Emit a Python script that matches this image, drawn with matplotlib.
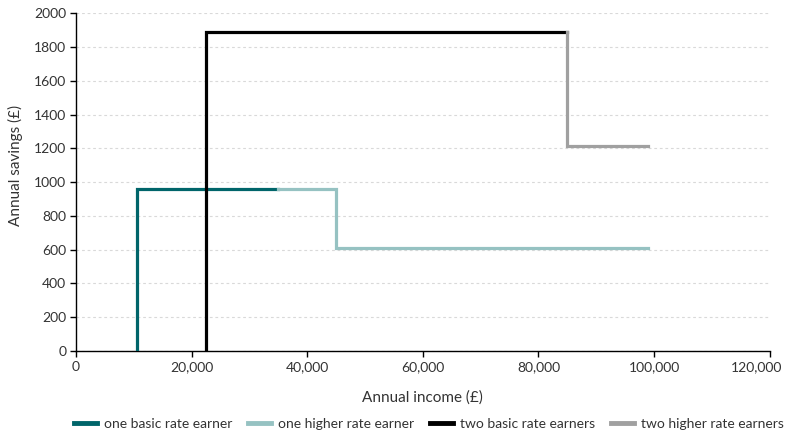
import matplotlib.pyplot as plt
from matplotlib.ticker import FuncFormatter
from matplotlib.transforms import ScaledTranslation

plt.rcParams['font.family'] = ['Lato', 'DejaVu Sans']

# step paths (income in £, savings in £)
basic1_x = [10600, 10600, 35000]
basic1_y = [0, 960, 960]
higher1_x = [35000, 45000, 45000, 99000]
higher1_y = [960, 960, 610, 610]
basic2_x = [22500, 22500, 85000]
basic2_y = [0, 1890, 1890]
higher2_x = [85000, 85000, 99000]
higher2_y = [1890, 1215, 1215]

labels = ['one basic rate earner', 'one higher rate earner',
          'two basic rate earners', 'two higher rate earners']
colors = ['#00656a', '#96c2c2', '#000000', '#a0a0a0']

fig = plt.figure(figsize=(7.87, 4.38), dpi=100)
ax = fig.add_axes([0.0966, 0.1986, 0.8814, 0.7714])

ax.plot(basic1_x, basic1_y, color=colors[0], lw=2.3, label=labels[0], zorder=3, solid_joinstyle='miter')
ax.plot(higher1_x, higher1_y, color=colors[1], lw=2.3, label=labels[1], zorder=3, solid_joinstyle='miter')
ax.plot(basic2_x, basic2_y, color=colors[2], lw=2.3, label=labels[2], zorder=4, solid_joinstyle='miter')
ax.plot(higher2_x, higher2_y, color=colors[3], lw=2.3, label=labels[3], zorder=5, solid_joinstyle='miter')

ax.set_xlim(0, 120000)
ax.set_ylim(0, 2000)
ax.set_xticks(range(0, 120001, 20000))
ax.set_yticks(range(0, 2001, 200))
ax.xaxis.set_major_formatter(FuncFormatter(lambda v, p: f'{int(v):,}'))

ax.grid(axis='y', color='#d9d9d9', linestyle=(0, (2.5, 2.5)), lw=0.8)
ax.set_axisbelow(True)
for s in ['top', 'right']:
    ax.spines[s].set_visible(False)
for s in ['left', 'bottom']:
    ax.spines[s].set_color('black')
    ax.spines[s].set_linewidth(1.0)
ax.tick_params(labelcolor='#333333', labelsize=10, length=4, width=1, color='black', pad=3)

# last x label pulled in so it stays inside the figure
last = ax.get_xticklabels()[-1]
last.set_transform(last.get_transform() + ScaledTranslation(-0.13, 0, fig.dpi_scale_trans))

ax.set_xlabel('Annual income (£)', fontsize=11, color='#333333', labelpad=13)
ax.set_ylabel('Annual savings (£)', fontsize=11, color='#333333')
ax.yaxis.set_label_coords(-0.077, 0.55)

fig.legend(loc='lower center', bbox_to_anchor=(0.545, -0.01), ncol=4, frameon=False,
           fontsize=10, handlelength=1.7, handletextpad=0.5, columnspacing=1.1,
           labelcolor='#333333')
for line in fig.legends[0].get_lines():
    line.set_linewidth(3.5)

fig.savefig('out.png', dpi=100)
